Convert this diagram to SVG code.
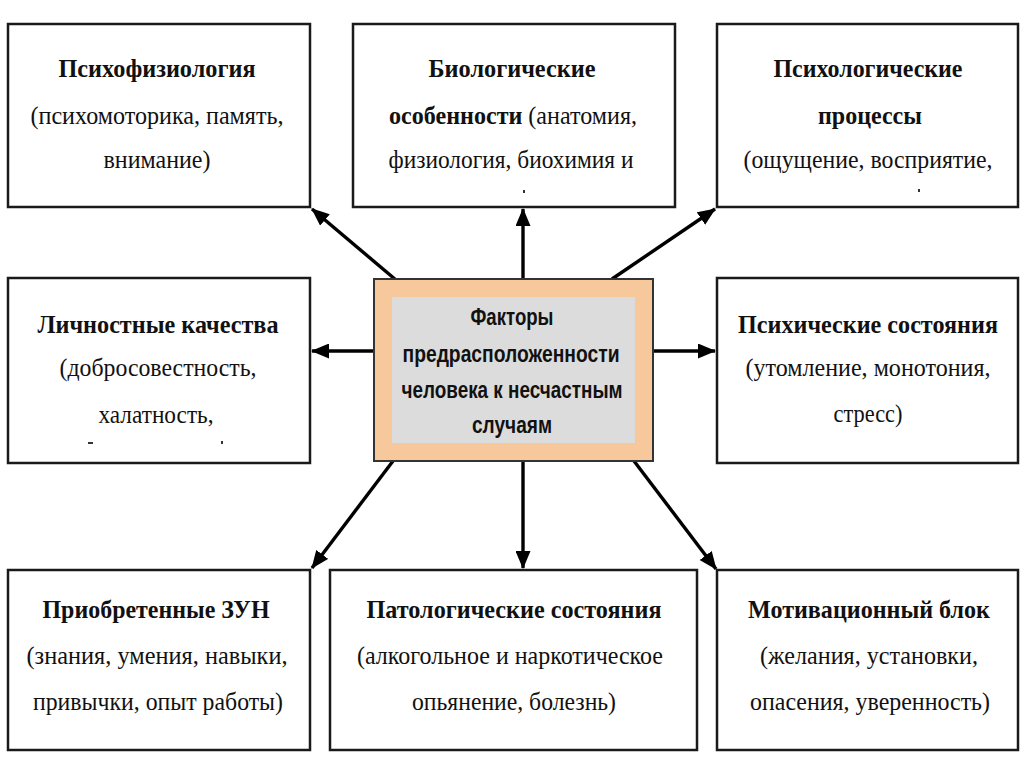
<svg xmlns="http://www.w3.org/2000/svg" width="1024" height="767" viewBox="0 0 1024 767">
<style>
.box{fill:#ffffff;stroke:#1a1a1a;stroke-width:2.5}
.t{font-family:"Liberation Serif","Times New Roman",serif;font-size:26px;fill:#111;text-anchor:middle}
.b{font-weight:bold}
.c{font-family:"Liberation Sans",Arial,sans-serif;font-size:23px;font-weight:bold;fill:#111;text-anchor:middle}
.conn{stroke:#000;stroke-width:3.4;fill:none;marker-end:url(#ah)}
.mark{fill:#333}
</style>
<defs>
<marker id="ah" markerUnits="userSpaceOnUse" markerWidth="19" markerHeight="15" refX="17" refY="7.5" orient="auto">
<path d="M0,0 L18,7.5 L0,15 Z" fill="#000"/>
</marker>
</defs>
<rect width="1024" height="767" fill="#ffffff"/>

<g id="connectors">
<line class="conn" x1="396" y1="280" x2="312" y2="209"/>
<line class="conn" x1="523" y1="280" x2="523" y2="209"/>
<line class="conn" x1="612" y1="279" x2="715" y2="209"/>
<line class="conn" x1="374" y1="351" x2="312" y2="351"/>
<line class="conn" x1="653" y1="351" x2="715" y2="351"/>
<line class="conn" x1="393" y1="461" x2="312" y2="568"/>
<line class="conn" x1="523" y1="461" x2="523" y2="568"/>
<line class="conn" x1="634" y1="461" x2="716" y2="569"/>
</g>

<g id="center">
<rect x="374" y="279" width="279" height="182" fill="#F7C89B" stroke="#333" stroke-width="2"/>
<rect x="392" y="297" width="243" height="146" fill="#DCDCDC"/>
<text class="c" x="512" y="325" textLength="83" lengthAdjust="spacingAndGlyphs">Факторы</text>
<text class="c" x="511" y="362" textLength="217" lengthAdjust="spacingAndGlyphs">предрасположенности</text>
<text class="c" x="512" y="398" textLength="221" lengthAdjust="spacingAndGlyphs">человека к несчастным</text>
<text class="c" x="512" y="433" textLength="80" lengthAdjust="spacingAndGlyphs">случаям</text>
</g>

<g id="psychophysiology">
<rect class="box" x="8" y="24" width="302" height="183"/>
<text class="t b" x="157" y="77" textLength="197" lengthAdjust="spacingAndGlyphs">Психофизиология</text>
<text class="t" x="157" y="124" textLength="253" lengthAdjust="spacingAndGlyphs">(психомоторика, память,</text>
<text class="t" x="157" y="168" textLength="107" lengthAdjust="spacingAndGlyphs">внимание)</text>
</g>

<g id="biological">
<rect class="box" x="353" y="24" width="322" height="183"/>
<text class="t b" x="512" y="77" textLength="167" lengthAdjust="spacingAndGlyphs">Биологические</text>
<text class="t" x="513" y="124" textLength="248" lengthAdjust="spacingAndGlyphs"><tspan font-weight="bold">особенности</tspan> (анатомия,</text>
<text class="t" x="511" y="168" textLength="245" lengthAdjust="spacingAndGlyphs">физиология, биохимия и</text>
<rect class="mark" x="523" y="190" width="2" height="3"/>
</g>

<g id="psychological">
<rect class="box" x="717" y="24" width="301" height="183"/>
<text class="t b" x="868" y="77" textLength="189" lengthAdjust="spacingAndGlyphs">Психологические</text>
<text class="t b" x="870" y="124" textLength="104" lengthAdjust="spacingAndGlyphs">процессы</text>
<text class="t" x="868" y="168" textLength="249" lengthAdjust="spacingAndGlyphs">(ощущение, восприятие,</text>
<rect class="mark" x="918" y="189" width="2" height="3"/>
</g>

<g id="personal">
<rect class="box" x="8" y="278" width="302" height="185"/>
<text class="t b" x="158" y="333" textLength="241" lengthAdjust="spacingAndGlyphs">Личностные качества</text>
<text class="t" x="158" y="376" textLength="197" lengthAdjust="spacingAndGlyphs">(добросовестность,</text>
<text class="t" x="156" y="423" textLength="115" lengthAdjust="spacingAndGlyphs">халатность,</text>
<rect class="mark" x="88" y="442" width="5" height="2"/>
<rect class="mark" x="221" y="441" width="2" height="3"/>
</g>

<g id="mental-states">
<rect class="box" x="717" y="278" width="301" height="185"/>
<text class="t b" x="868" y="333" textLength="260" lengthAdjust="spacingAndGlyphs">Психические состояния</text>
<text class="t" x="868" y="376" textLength="245" lengthAdjust="spacingAndGlyphs">(утомление, монотония,</text>
<text class="t" x="868" y="422" textLength="69" lengthAdjust="spacingAndGlyphs">стресс)</text>
</g>

<g id="acquired">
<rect class="box" x="8" y="570" width="302" height="180"/>
<text class="t b" x="156" y="618" textLength="227" lengthAdjust="spacingAndGlyphs">Приобретенные ЗУН</text>
<text class="t" x="157" y="664" textLength="261" lengthAdjust="spacingAndGlyphs">(знания, умения, навыки,</text>
<text class="t" x="158" y="710" textLength="250" lengthAdjust="spacingAndGlyphs">привычки, опыт работы)</text>
</g>

<g id="pathological">
<rect class="box" x="330" y="570" width="367" height="180"/>
<text class="t b" x="514" y="618" textLength="295" lengthAdjust="spacingAndGlyphs">Патологические состояния</text>
<text class="t" x="510" y="664" textLength="306" lengthAdjust="spacingAndGlyphs">(алкогольное и наркотическое</text>
<text class="t" x="514" y="710" textLength="204" lengthAdjust="spacingAndGlyphs">опьянение, болезнь)</text>
</g>

<g id="motivation">
<rect class="box" x="717" y="570" width="301" height="180"/>
<text class="t b" x="869" y="618" textLength="242" lengthAdjust="spacingAndGlyphs">Мотивационный блок</text>
<text class="t" x="869" y="664" textLength="218" lengthAdjust="spacingAndGlyphs">(желания, установки,</text>
<text class="t" x="870" y="710" textLength="240" lengthAdjust="spacingAndGlyphs">опасения, уверенность)</text>
</g>
</svg>
